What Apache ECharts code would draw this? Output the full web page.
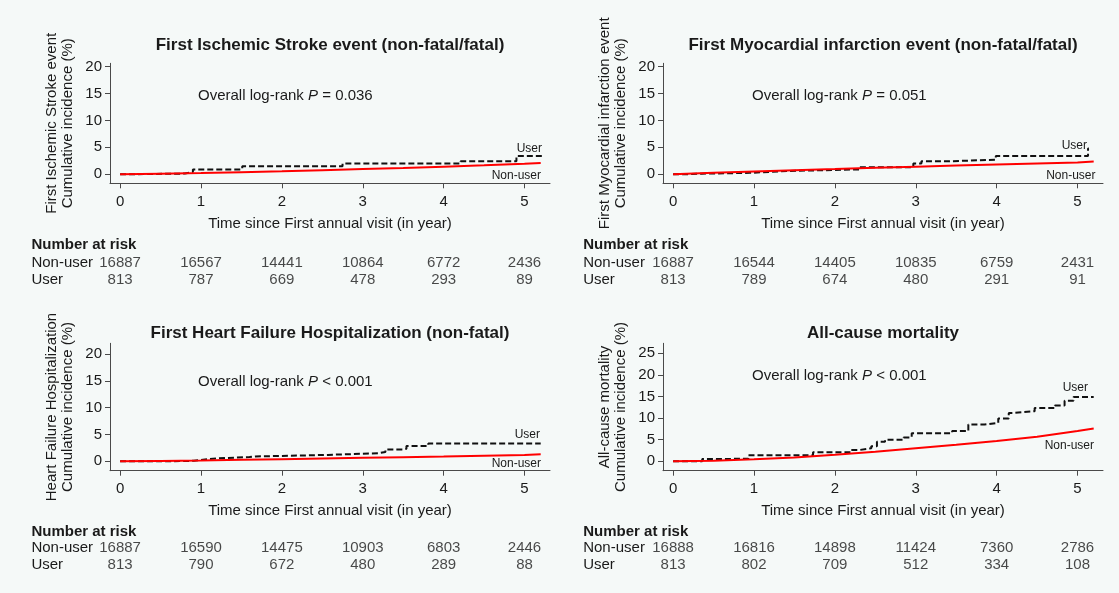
<!DOCTYPE html>
<html><head><meta charset="utf-8">
<script src="https://cdn.jsdelivr.net/npm/echarts@6/dist/echarts.min.js"></script>
<style>html,body{margin:0;padding:0;background:#f5f9f8}#c{width:1119px;height:593px}</style>
</head><body><div id="c"></div>
<script>
// ---------- data ----------
const years = [0, 1, 2, 3, 4, 5];
const riskGroups = ['Non-user', 'User'];
const panelTitles = [
  'First Ischemic Stroke event (non-fatal/fatal)',
  'First Myocardial infarction event (non-fatal/fatal)',
  'First Heart Failure Hospitalization (non-fatal)',
  'All-cause mortality'
];
const yAxisTitles = [
  'First Ischemic Stroke event\nCumulative incidence (%)',
  'First Myocardial infarction event\nCumulative incidence (%)',
  'Heart Failure Hospitalization\nCumulative incidence (%)',
  'All-cause mortality\nCumulative incidence (%)'
];
const xAxisTitle = 'Time since First annual visit (in year)';
const pValues = ['= 0.036', '= 0.051', '< 0.001', '< 0.001'];
const yTicks20 = [0, 5, 10, 15, 20];
const yTicks25 = [0, 5, 10, 15, 20, 25];

// Panel 1: ischemic stroke
const userT1 = [0, 0.19, 0.8, 0.9, 1.51, 2.75, 4.21, 4.9, 5.22];
const userV1 = [0, 0.12, 0.4, 0.9, 1.5, 2.0, 2.4, 3.4, 3.4];
const nonT1 = [0, 0.5, 1, 1.5, 2, 2.5, 3, 3.5, 4, 4.5, 5, 5.2];
const nonV1 = [0, 0.1, 0.22, 0.38, 0.55, 0.75, 0.95, 1.15, 1.4, 1.65, 1.95, 2.1];
// Panel 2: myocardial infarction
const userT2 = [0, 0.19, 0.35, 0.95, 1.42, 2.3, 2.97, 3.07, 3.4, 3.99, 5.13, 5.14];
const userV2 = [0, 0.1, 0.25, 0.6, 0.9, 1.3, 2.0, 2.4, 2.7, 3.4, 4.8, 4.8];
const nonT2 = [0, 0.5, 1, 1.5, 2, 2.5, 3, 3.5, 4, 4.5, 5, 5.2];
const nonV2 = [0, 0.25, 0.5, 0.75, 0.95, 1.2, 1.4, 1.6, 1.8, 2.0, 2.2, 2.35];
// Panel 3: heart failure hospitalization
const userT3 = [0, 0.2, 0.62, 0.91, 1.05, 1.2, 1.6, 1.67, 2.3, 2.57, 3.19, 3.28, 3.5, 3.54, 3.81, 5.2];
const userV3 = [0, 0, 0.1, 0.35, 0.55, 0.8, 0.9, 1.1, 1.2, 1.5, 1.75, 2.2, 2.35, 2.85, 3.3, 3.3];
const nonT3 = [0, 0.5, 1, 1.5, 2, 2.5, 3, 3.5, 4, 4.5, 5, 5.2];
const nonV3 = [0, 0.07, 0.15, 0.28, 0.4, 0.52, 0.65, 0.78, 0.9, 1.05, 1.2, 1.3];
// Panel 4: all-cause mortality
const userT4 = [0, 0.36, 0.5, 0.93, 1.73, 2.2, 2.3, 2.45, 2.52, 2.62, 2.85, 2.95, 3.45, 3.65, 3.85, 4.02, 4.15, 4.22, 4.47, 4.72, 4.84, 4.95, 5.2];
const userV4 = [0, 0.5, 0.6, 1.4, 2.1, 2.6, 3.0, 3.5, 4.5, 5.0, 5.5, 6.5, 7.0, 8.5, 8.9, 9.9, 11.2, 11.6, 12.3, 12.9, 14.0, 14.9, 15.0];
const nonT4 = [0, 0.5, 1, 1.5, 2, 2.5, 3, 3.5, 4, 4.5, 5, 5.2];
const nonV4 = [0, 0.1, 0.45, 0.9, 1.5, 2.2, 3.0, 3.8, 4.7, 5.7, 7.0, 7.6];

// Number at risk
const riskNon1 = [16887, 16567, 14441, 10864, 6772, 2436];
const riskUser1 = [813, 787, 669, 478, 293, 89];
const riskNon2 = [16887, 16544, 14405, 10835, 6759, 2431];
const riskUser2 = [813, 789, 674, 480, 291, 91];
const riskNon3 = [16887, 16590, 14475, 10903, 6803, 2446];
const riskUser3 = [813, 790, 672, 480, 289, 88];
const riskNon4 = [16888, 16816, 14898, 11424, 7360, 2786];
const riskUser4 = [813, 802, 709, 512, 334, 108];

// ---------- layout ----------
const FONT = '"Liberation Sans", Arial, Helvetica, sans-serif';
const TXT = '#1a1a1a';
const AX = '#4a4a4a';
const panels = [
  {left: 110, top: 63.3, h: 120, yMin: -1.69, yMax: 20.63, yTicks: yTicks20, tableTop: 255, nar: [31.4, 245],
   userLab: [542, 148.3], nonLab: [541, 175.7], pLab: [198, 96], titleY: 45,
   uT: userT1, uV: userV1, nT: nonT1, nV: nonV1, rN: riskNon1, rU: riskUser1},
  {left: 663, top: 63.3, h: 120, yMin: -1.69, yMax: 20.63, yTicks: yTicks20, tableTop: 255, nar: [583.2, 245],
   userLab: [1087, 146], nonLab: [1095.5, 176], pLab: [752, 96], titleY: 45,
   uT: userT2, uV: userV2, nT: nonT2, nV: nonV2, rN: riskNon2, rU: riskUser2},
  {left: 110, top: 343.3, h: 127.4, yMin: -1.75, yMax: 22.0, yTicks: yTicks20, tableTop: 540, nar: [31.4, 532.3],
   userLab: [540, 435], nonLab: [541, 463.3], pLab: [198, 381.7], titleY: 333,
   uT: userT3, uV: userV3, nT: nonT3, nV: nonV3, rN: riskNon3, rU: riskUser3},
  {left: 663, top: 343.3, h: 127.4, yMin: -2.18, yMax: 27.3, yTicks: yTicks25, tableTop: 540, nar: [583.2, 532],
   userLab: [1088, 388], nonLab: [1094, 446], pLab: [752, 376], titleY: 333,
   uT: userT4, uV: userV4, nT: nonT4, nV: nonV4, rN: riskNon4, rU: riskUser4}
];
const W = 440, XMIN = -0.125, XMAX = 5.315;

const grid = [], xAxis = [], yAxis = [], series = [], graphic = [];
const zip = (a, b) => a.map((v, i) => [v, b[i]]);

panels.forEach((p, i) => {
  grid.push({left: p.left, top: p.top, width: W, height: p.h, containLabel: false, outerBoundsMode: 'none'});
  xAxis.push({
    type: 'value', gridIndex: i, min: XMIN, max: XMAX,
    axisLine: {show: true, onZero: false, lineStyle: {color: AX, width: 1}},
    axisTick: {show: true, length: 5, customValues: years, lineStyle: {color: AX}},
    axisLabel: {customValues: years, margin: 11, fontSize: 15, fontFamily: FONT, color: TXT},
    splitLine: {show: false},
    name: xAxisTitle, nameLocation: 'middle', nameGap: 33,
    nameTextStyle: {fontSize: 15, fontFamily: FONT, color: TXT}
  });
  yAxis.push({
    type: 'value', gridIndex: i, min: p.yMin, max: p.yMax,
    axisLine: {show: true, onZero: false, lineStyle: {color: AX, width: 1}},
    axisTick: {show: true, length: 5, customValues: p.yTicks, lineStyle: {color: AX}},
    axisLabel: {customValues: p.yTicks, margin: 8, fontSize: 15, fontFamily: FONT, color: TXT},
    splitLine: {show: false},
    name: yAxisTitles[i], nameLocation: 'middle', nameGap: 34, nameRotate: 90,
    nameTextStyle: {fontSize: 15, fontFamily: FONT, color: TXT, lineHeight: 16}
  });
  series.push({
    type: 'line', xAxisIndex: i, yAxisIndex: i, step: 'end', symbol: 'none', name: 'User',
    data: zip(p.uT, p.uV), lineStyle: {color: '#111', width: 2, type: [6, 3]}, z: 2
  });
  series.push({
    type: 'line', xAxisIndex: i, yAxisIndex: i, symbol: 'none', name: 'Non-user',
    data: zip(p.nT, p.nV), lineStyle: {color: '#ff0000', width: 2}, z: 3
  });
  // titles and annotations
  graphic.push({type: 'text', x: p.left + W / 2, y: p.titleY, style: {text: panelTitles[i], fontSize: 17, fontWeight: 'bold', fontFamily: FONT, fill: TXT, align: 'center', verticalAlign: 'middle'}});
  graphic.push({type: 'text', x: p.pLab[0], y: p.pLab[1], style: {
    text: 'Overall log-rank {i|P} ' + pValues[i], fontSize: 15, fontFamily: FONT, fill: TXT, align: 'left', verticalAlign: 'middle',
    rich: {i: {fontStyle: 'italic', fontSize: 15, fontFamily: FONT, fill: TXT}}}});
  graphic.push({type: 'text', x: p.userLab[0], y: p.userLab[1], style: {text: 'User', fontSize: 12, fontFamily: FONT, fill: TXT, align: 'right', verticalAlign: 'middle'}});
  graphic.push({type: 'text', x: p.nonLab[0], y: p.nonLab[1], style: {text: 'Non-user', fontSize: 12, fontFamily: FONT, fill: TXT, align: 'right', verticalAlign: 'middle'}});
  graphic.push({type: 'text', x: p.nar[0], y: p.nar[1], style: {text: 'Number at risk', fontSize: 15, fontWeight: 'bold', fontFamily: FONT, fill: TXT, align: 'left', verticalAlign: 'middle'}});
});

// risk tables
panels.forEach((p, i) => {
  const gi = 4 + i;
  grid.push({left: p.left, top: p.tableTop, width: W, height: 33.4, containLabel: false, outerBoundsMode: 'none'});
  xAxis.push({type: 'value', gridIndex: gi, min: XMIN, max: XMAX, show: false});
  yAxis.push({
    type: 'category', gridIndex: gi, data: riskGroups, inverse: true,
    axisLine: {show: false}, axisTick: {show: false}, splitLine: {show: false},
    axisLabel: {show: true, interval: 0, hideOverlap: false, align: 'left', margin: p.left - p.nar[0], fontSize: 15, fontFamily: FONT, color: TXT}
  });
  const data = [];
  years.forEach((y, k) => {
    data.push([y, riskGroups[0], p.rN[k]]);
    data.push([y, riskGroups[1], p.rU[k]]);
  });
  series.push({
    type: 'scatter', xAxisIndex: gi, yAxisIndex: gi, data: data, symbolSize: 1,
    itemStyle: {color: 'rgba(0,0,0,0)'},
    label: {show: true, position: 'inside', formatter: (q) => String(q.value[2]), fontSize: 15, fontFamily: FONT, color: TXT},
    emphasis: {disabled: true}, silent: true
  });
});

const chart = echarts.init(document.getElementById('c'), null, {renderer: 'canvas'});
chart.setOption({
  backgroundColor: '#f5f9f8',
  animation: false,
  grid, xAxis, yAxis, series, graphic
});
</script></body></html>
